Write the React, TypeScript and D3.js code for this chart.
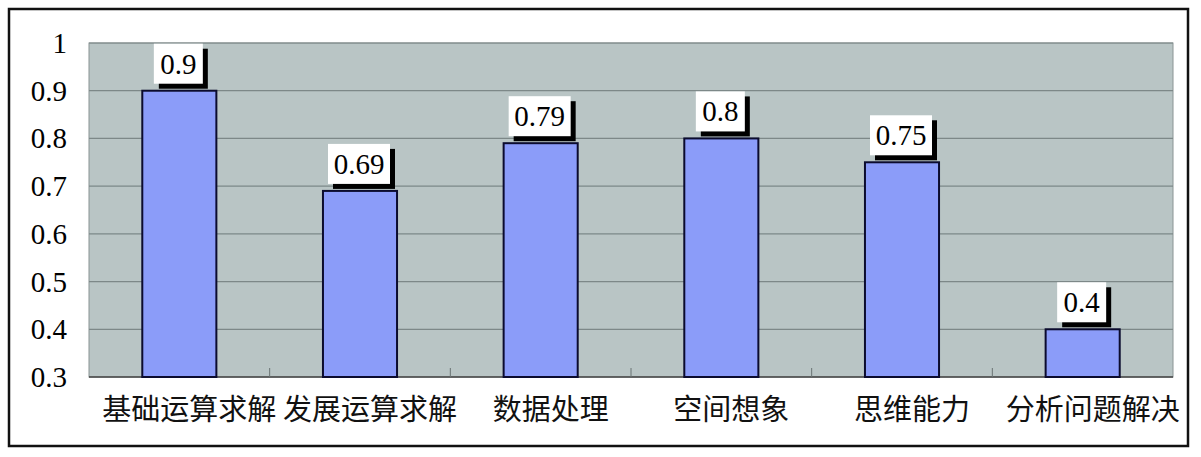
import React, { useEffect, useRef } from 'react';
import * as d3 from 'd3';

const categories = ['基础运算求解', '发展运算求解', '数据处理', '空间想象', '思维能力', '分析问题解决'];
const values = [0.9, 0.69, 0.79, 0.8, 0.75, 0.4];
const yTicks = [0.3, 0.4, 0.5, 0.6, 0.7, 0.8, 0.9, 1];

const App: React.FC = () => {
  const svgRef = useRef<SVGSVGElement>(null);

  useEffect(() => {
    if (!svgRef.current) return;
    const width = 1201;
    const height = 457;
    const plot = { left: 89, right: 1173, top: 43, bottom: 377 };
    const serif = 'Liberation Serif';

    const svg = d3.select(svgRef.current).attr('width', width).attr('height', height).html('');

    svg.append('rect').attr('width', width).attr('height', height).style('fill', '#fff');

    // outer frame
    svg.append('rect')
      .attr('x', 9).attr('y', 9)
      .attr('width', 1179).attr('height', 437)
      .style('fill', 'none')
      .style('stroke', '#111')
      .style('stroke-width', 2.5);

    const x = d3.scaleBand<string>()
      .domain(categories)
      .range([plot.left, plot.right])
      .paddingInner(0.59)
      .paddingOuter(0.295);
    const y = d3.scaleLinear().domain([0.3, 1]).range([plot.bottom, plot.top]);
    const step = x.step();

    // plot background
    svg.append('rect')
      .attr('x', plot.left).attr('y', plot.top)
      .attr('width', plot.right - plot.left).attr('height', plot.bottom - plot.top)
      .style('fill', '#b9c5c5')
      .style('stroke', '#8a9494')
      .style('stroke-width', 1);

    // grid lines
    svg.selectAll('.grid')
      .data(yTicks.slice(1))
      .enter().append('line')
      .attr('x1', plot.left).attr('x2', plot.right)
      .attr('y1', d => y(d)).attr('y2', d => y(d))
      .style('stroke', '#7d8888')
      .style('stroke-width', 1.2);

    // bottom axis line and inner category ticks
    svg.append('line')
      .attr('x1', plot.left).attr('x2', plot.right)
      .attr('y1', plot.bottom).attr('y2', plot.bottom)
      .style('stroke', '#444')
      .style('stroke-width', 1.5);
    svg.selectAll('.ctick')
      .data(d3.range(1, categories.length))
      .enter().append('line')
      .attr('x1', i => plot.left + i * step).attr('x2', i => plot.left + i * step)
      .attr('y1', plot.bottom).attr('y2', plot.bottom - 9)
      .style('stroke', '#6a7474')
      .style('stroke-width', 1);

    // y tick labels
    svg.selectAll('.ylab')
      .data(yTicks)
      .enter().append('text')
      .attr('x', 67)
      .attr('y', d => y(d) + 10)
      .attr('text-anchor', 'end')
      .attr('font-family', serif)
      .attr('font-size', 29)
      .style('fill', '#000')
      .text(d => String(d));

    // bars
    svg.selectAll('.bar')
      .data(values)
      .enter().append('rect')
      .attr('x', (d, i) => x(categories[i])!)
      .attr('y', d => y(d))
      .attr('width', x.bandwidth())
      .attr('height', d => plot.bottom - y(d))
      .style('fill', '#8b9cf9')
      .style('stroke', '#0b0b2e')
      .style('stroke-width', 2);

    // value labels: white box with black drop shadow
    const labels = svg.selectAll('.lab')
      .data(values)
      .enter().append('g');
    const boxH = 40;
    const boxW = (d: number) => (String(d).length === 3 ? 49 : 62);
    labels.append('rect')
      .attr('x', (d, i) => x(categories[i])! + x.bandwidth() / 2 - boxW(d) / 2 - 1 + 5)
      .attr('y', d => y(d) - 7 - boxH + 5)
      .attr('width', d => boxW(d))
      .attr('height', boxH)
      .style('fill', '#000');
    labels.append('rect')
      .attr('x', (d, i) => x(categories[i])! + x.bandwidth() / 2 - boxW(d) / 2 - 1)
      .attr('y', d => y(d) - 7 - boxH)
      .attr('width', d => boxW(d))
      .attr('height', boxH)
      .style('fill', '#fff');
    labels.append('text')
      .attr('x', (d, i) => x(categories[i])! + x.bandwidth() / 2 - 1)
      .attr('y', d => y(d) - 7 - boxH + 30)
      .attr('text-anchor', 'middle')
      .attr('font-family', serif)
      .attr('font-size', 29)
      .style('fill', '#000')
      .text(d => String(d));

    // category labels
    svg.selectAll('.clab')
      .data(categories)
      .enter().append('text')
      .attr('x', d => x(d)! + x.bandwidth() / 2 + 10)
      .attr('y', 420)
      .attr('text-anchor', 'middle')
      .attr('font-family', 'Noto Sans CJK SC')
      .attr('font-size', 29)
      .style('fill', '#111')
      .text(d => d);
  }, []);

  return <svg ref={svgRef} style={{ position: 'absolute', left: 0, top: 0 }}></svg>;
};

export default App;
